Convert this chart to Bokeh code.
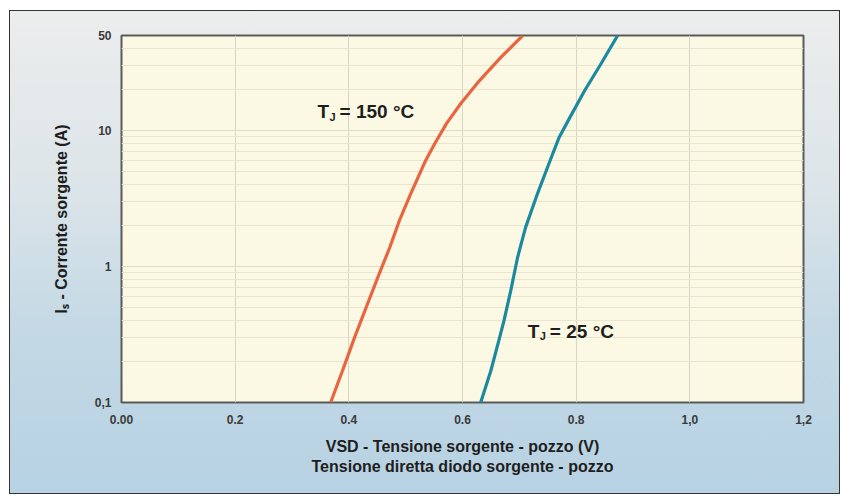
from bokeh.plotting import figure
from bokeh.models import FixedTicker, Label
from bokeh.embed import file_html
from bokeh.resources import INLINE

# Data
v_150 = [0.368, 0.389, 0.410, 0.435, 0.456, 0.472, 0.489, 0.509, 0.535, 0.551, 0.572, 0.597, 0.630, 0.667, 0.706]
i_150 = [0.10, 0.172, 0.30, 0.56, 0.94, 1.38, 2.18, 3.44, 6.0, 8.0, 11.3, 15.8, 23.3, 34.4, 50.0]
v_25 = [0.632, 0.650, 0.664, 0.673, 0.685, 0.697, 0.711, 0.732, 0.754, 0.770, 0.789, 0.815, 0.844, 0.873]
i_25 = [0.10, 0.172, 0.286, 0.40, 0.667, 1.17, 1.94, 3.44, 6.0, 8.9, 12.5, 19.7, 31.1, 50.0]

x_ticks = [0.0, 0.2, 0.4, 0.6, 0.8, 1.0, 1.2]
x_tick_labels = ["0.00", "0.2", "0.4", "0.6", "0.8", "1,0", "1,2"]
y_ticks = [0.1, 1, 10, 50]
y_tick_labels = ["0,1", "1", "10", "50"]
y_minor = [0.2, 0.3, 0.4, 0.5, 0.6, 0.7, 0.8, 0.9, 2, 3, 4, 5, 6, 7, 8, 9, 20, 30, 40]

FONT = "Liberation Sans"

p = figure(width=831, height=484, x_range=(0, 1.2), y_range=(0.1, 50),
           y_axis_type="log", output_backend="svg", toolbar_location=None,
           min_border_left=111, min_border_right=38, min_border_top=24, min_border_bottom=93)

p.border_fill_alpha = 0
p.styles = {"border": "1px solid #333333", "margin-left": "9px", "margin-top": "10px",
            "background": "linear-gradient(to bottom, #eceded 0%, #dde5e9 35%, #c4d9e5 65%, #b7d2e3 100%)"}
p.background_fill_color = "#fbf8e3"
p.outline_line_color = "#5a5a5a"
p.outline_line_width = 2

p.xaxis.ticker = FixedTicker(ticks=x_ticks)
p.xaxis.major_label_overrides = {t: l for t, l in zip(x_ticks, x_tick_labels)}
p.yaxis.ticker = FixedTicker(ticks=y_ticks, minor_ticks=y_minor)
p.yaxis.major_label_overrides = {t: l for t, l in zip(y_ticks, y_tick_labels)}

for ax in (p.xaxis, p.yaxis):
    ax.axis_line_color = None
    ax.major_tick_line_color = None
    ax.minor_tick_line_color = None
    ax.major_label_text_font = FONT
    ax.major_label_text_font_style = "bold"
    ax.major_label_text_font_size = "12px"
    ax.major_label_text_color = "#3a3a3a"
    ax.axis_label_text_font = FONT
    ax.axis_label_text_font_style = "bold"
    ax.axis_label_text_font_size = "16px"
    ax.axis_label_text_color = "#1e1e1e"

p.xaxis.major_label_standoff = 6
p.yaxis.major_label_standoff = 4
p.xaxis.axis_label = "VSD - Tensione sorgente - pozzo (V)\nTensione diretta diodo sorgente - pozzo"
p.xaxis.axis_label_standoff = 11
p.yaxis.axis_label = "I\u209B - Corrente sorgente (A)"
p.yaxis.axis_label_standoff = 22

p.xgrid.grid_line_color = "#d9d5c6"
p.ygrid.grid_line_color = "#e2dcc6"
p.ygrid.minor_grid_line_color = "#ebe5cf"

p.line(v_150, i_150, line_color="#e8653f", line_width=3.2)
p.line(v_25, i_25, line_color="#1b8a9f", line_width=3.2)

def tj_label(x, y, rest):
    common = dict(x=x, y=y, text_font=FONT, text_font_style="bold", text_color="#1e1e1e",
                  text_baseline="middle", text_align="left")
    p.add_layout(Label(text="T", text_font_size="19px", **common))
    p.add_layout(Label(text="J", text_font_size="11px", x_offset=12, y_offset=-5, **common))
    p.add_layout(Label(text=rest, text_font_size="19px", x_offset=22, **common))

tj_label(0.345, 13.8, "= 150 °C")
tj_label(0.715, 0.333, "= 25 °C")

open("out.html", "w").write(file_html(p, INLINE))
